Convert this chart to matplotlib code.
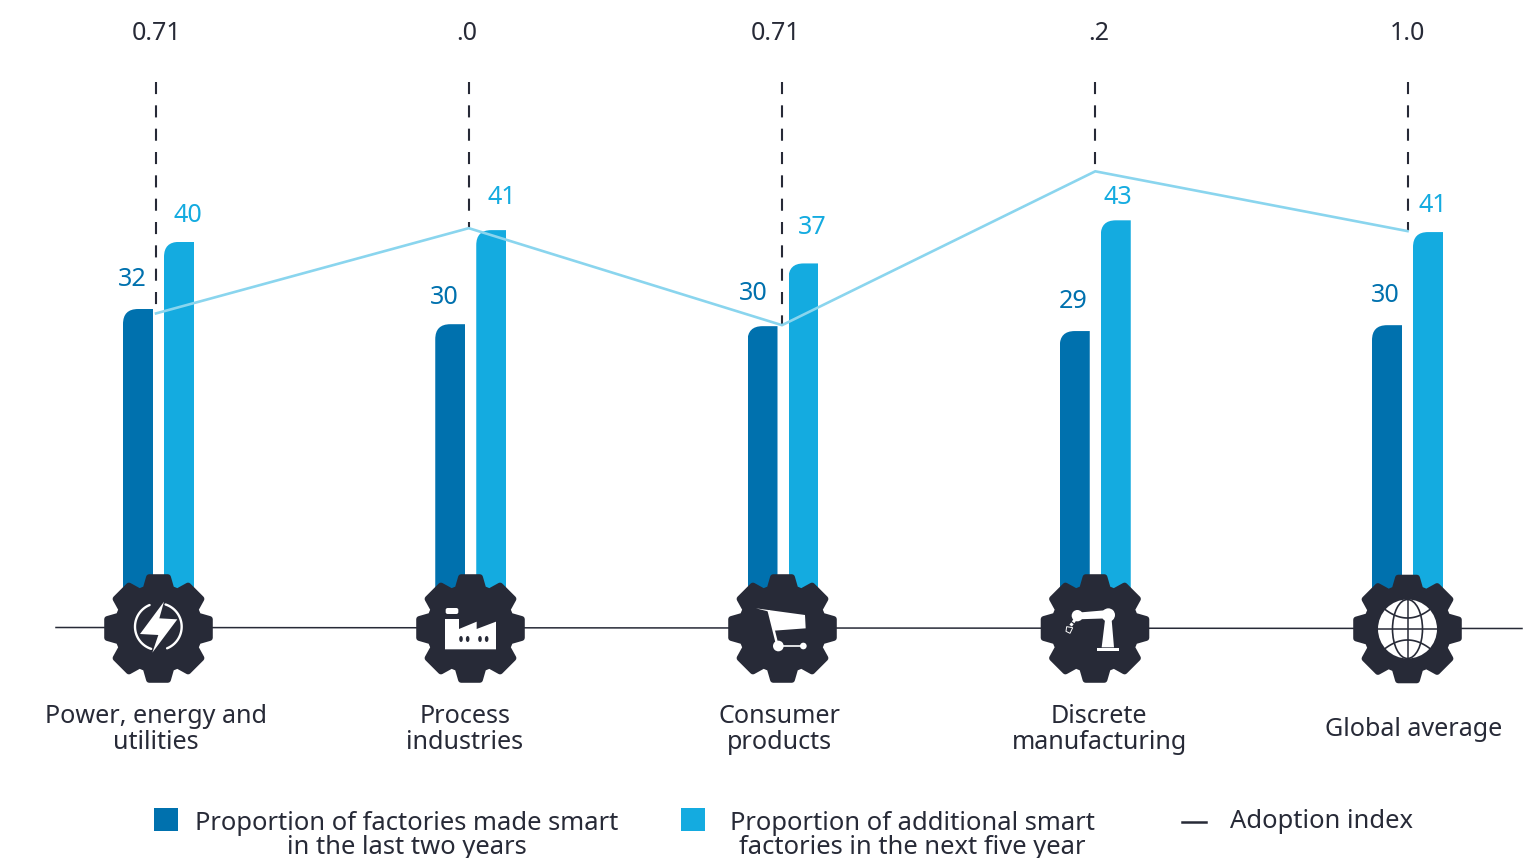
import numpy as np
import matplotlib
matplotlib.use("Agg")
import matplotlib.pyplot as plt
from matplotlib.path import Path
from matplotlib.patches import Polygon, Circle, Rectangle, FancyBboxPatch, Ellipse
from matplotlib.transforms import Affine2D, IdentityTransform

categories = ["Power, energy and\nutilities", "Process\nindustries", "Consumer\nproducts",
              "Discrete\nmanufacturing", "Global average"]
made_smart_labels = [32, 30, 30, 29, 30]
additional_labels = [40, 41, 37, 43, 41]
made_smart_heights = [32.55, 31.0, 30.8, 30.3, 30.9]
additional_heights = [39.4, 40.6, 37.2, 41.6, 40.4]
adoption_line = [32.1, 40.8, 30.9, 46.6, 40.5]
adoption_labels = ["0.71", ".0", "0.71", ".2", "1.0"]
legend_labels = ["Proportion of factories made smart\nin the last two years",
                 "Proportion of additional smart\nfactories in the next five year",
                 "Adoption index"]

DARK, LIGHT, LINE, INK = "#0071AE", "#14ABE0", "#8AD5EE", "#272A37"
plt.rcParams["font.family"] = ["Noto Sans", "DejaVu Sans"]
FS = 18.1
LFS = 18.4

W, H = 1537, 858
BASE = 628.0; PXU = 9.8; X0 = 158.5; STEP = 312.25
fig = plt.figure(figsize=(W/100, H/100), dpi=100, facecolor="white")
ax = fig.add_axes([0, 0, 1, 1])
ax.set_xlim(-X0/STEP, (W-X0)/STEP)
ax.set_ylim((BASE-H)/PXU, BASE/PXU)
ax.axis("off")
px = Affine2D().scale(1, -1).translate(0, H)   # reference pixels -> display

xs = np.arange(len(categories))
bar_w = 30/STEP
off = 20.5/STEP

def round_clip(bar, r=15):
    (x0, y0), (x1, y1) = ax.transData.transform(
        [(bar.get_x(), bar.get_y()), (bar.get_x()+bar.get_width(), bar.get_y()+bar.get_height())])
    verts = [(x0, y0), (x0, y1-r), (x0, y1), (x0+r, y1), (x1, y1), (x1, y0), (x0, y0)]
    codes = [Path.MOVETO, Path.LINETO, Path.CURVE3, Path.CURVE3, Path.LINETO, Path.LINETO, Path.CLOSEPOLY]
    bar.set_clip_path(Path(verts, codes), IdentityTransform())

for b in ax.bar(xs-off, made_smart_heights, bar_w, color=DARK, zorder=2):
    round_clip(b)
for b in ax.bar(xs+off, additional_heights, bar_w, color=LIGHT, zorder=2):
    round_clip(b)

# baseline
ax.plot([56, 1522], [627.5, 628.5], transform=px, color=INK, lw=1.1, zorder=1)

# adoption index line + dashed droppers (dash pattern starts at the top)
line_dx = np.array([-2.5, -2.0, -1.0, 0, 0])/STEP
for x, y in zip(xs+line_dx, adoption_line):
    ax.plot([x, x], [(BASE-82)/PXU, y], color=INK, lw=1.5, ls=(0, (5.8, 5.4)),
            dash_capstyle="butt", zorder=3)
ax.plot(xs+line_dx, adoption_line, color=LINE, lw=1.9, zorder=4, solid_joinstyle="miter")

# value labels
dark_pos = [(132, 280), (444, 298), (753, 293), (1073, 301), (1385, 296)]
light_pos = [(188, 216), (502, 197), (812, 228), (1118, 197), (1433, 205)]
top_x = [157, 467, 776, 1099, 1408]
for (x, y), v in zip(dark_pos, made_smart_labels):
    ax.text(x, y, str(v), transform=px, color=DARK, fontsize=FS, ha="center", va="center")
for (x, y), v in zip(light_pos, additional_labels):
    ax.text(x, y, str(v), transform=px, color=LIGHT, fontsize=FS, ha="center", va="center")
for x, s in zip(top_x, adoption_labels):
    ax.text(x, 34, s, transform=px, color=INK, fontsize=FS, ha="center", va="center")

# category labels
cat_pos = [(156, 729.5), (465, 729.5), (779, 729.5), (1099, 729.5), (1414, 730)]
for (x, y), s in zip(cat_pos, categories):
    ax.text(x, y, s, transform=px, color=INK, fontsize=FS, ha="center", va="center", linespacing=1.06)

# gears
def gear_path(cx, cy, teeth=8, r_out=52, r_in=41.5, half_out=0.18, half_in=0.31):
    pts = []
    for k in range(teeth):
        a = -np.pi/2 + k*2*np.pi/teeth
        pts += [(r_in, a-half_in), (r_out, a-half_out), (r_out, a+half_out), (r_in, a+half_in)]
    return [(cx+r*np.cos(t), cy+r*np.sin(t)) for r, t in pts]

gear_c = [(158.5, 628.5), (470.5, 628.5), (782.5, 628.5), (1095, 628.5), (1407.5, 629)]
for c in gear_c:
    ax.add_patch(Polygon(gear_path(*c), closed=True, fc=INK, ec=INK, lw=4.5, joinstyle="round",
                         transform=px, zorder=5))

def z(pts, ox, oy):
    return [(ox+x/3, oy+y/3) for x, y in pts]

def wp(pts, ox, oy, color="white"):
    ax.add_patch(Polygon(z(pts, ox, oy), closed=True, fc=color, ec="none", transform=px, zorder=6))

def wc(x, y, r, ox, oy, color="white"):
    ax.add_patch(Circle((ox+x/3, oy+y/3), r/3, fc=color, ec="none", transform=px, zorder=7))

# power icon
wp([(222, 125), (150, 222), (205, 225), (187, 278), (262, 178), (208, 175)], 90, 560)
for t1, t2 in [(-72, 68), (108, 248)]:
    t = np.radians(np.linspace(t1, t2, 60))
    ax.plot(90+(205+70*np.cos(t))/3, 560+(200+70*np.sin(t))/3, color="white", lw=1.7,
            transform=px, zorder=6, solid_capstyle="round")

# factory icon
ax.add_patch(FancyBboxPatch((90+1067/3, 560+144/3), 38/3, 18/3, boxstyle="round,pad=0,rounding_size=2",
                            fc="white", ec="none", transform=px, zorder=6))
wp([(1065, 177), (1107, 177), (1107, 207), (1160, 185), (1160, 207), (1218, 185), (1218, 268), (1065, 268)], 90, 560)
for x in (1113, 1133, 1170, 1190):
    ax.add_patch(Ellipse((90+x/3, 560+237/3), 3.6, 6, fc=INK, ec="none", transform=px, zorder=7))

# cart icon
wp([(108, 145), (255, 165), (257, 205), (162, 212), (147, 155)], 720, 560)
ax.plot(*zip(*z([(147, 155), (172, 255)], 720, 560)), color="white", lw=1.8, transform=px, zorder=6)
ax.plot(*zip(*z([(175, 258), (250, 258)], 720, 560)), color="white", lw=1.2, transform=px, zorder=6)
wc(175, 258, 16, 720, 560)
wc(250, 258, 10, 720, 560)

# robot icon
wp([(1072, 158), (1165, 150), (1165, 175), (1072, 178)], 720, 560)
wc(1072, 167, 17, 720, 560)
wc(1165, 165, 20, 720, 560)
wp([(1155, 180), (1175, 180), (1182, 262), (1145, 262)], 720, 560)
wp([(1132, 265), (1197, 265), (1197, 272), (1132, 272)], 720, 560)
ax.plot(*zip(*z([(1068, 175), (1052, 197)], 720, 560)), color="white", lw=2.2, transform=px, zorder=6, ls=(0, (1.6, 0.4)))
ax.add_patch(Polygon(z([(1040, 200), (1058, 203), (1050, 220), (1038, 214)], 720, 560), closed=True,
                     fc="none", ec="white", lw=0.7, transform=px, zorder=6))

# globe icon
gx, gy = 1407.5, 629
ax.add_patch(Circle((gx, gy), 29.5, fc="white", ec="none", transform=px, zorder=6))
ax.add_patch(Ellipse((gx, gy), 30, 59, fc="none", ec=INK, lw=1.2, transform=px, zorder=7))
ax.plot([gx-29.5, gx+29.5], [gy, gy], color=INK, lw=1.1, transform=px, zorder=7)
ax.plot([gx, gx], [gy-29.5, gy+29.5], color=INK, lw=1.1, transform=px, zorder=7)
t = np.linspace(-1, 1, 40)
for sgn in (-1, 1):
    ax.plot(gx+t*23, gy+sgn*(11+9*t**2), color=INK, lw=1.2, transform=px, zorder=7)

# legend
ax.add_patch(Rectangle((154, 808), 24, 23, fc=DARK, ec="none", transform=px))
ax.add_patch(Rectangle((681, 808), 24, 23, fc=LIGHT, ec="none", transform=px))
ax.plot([1182, 1206], [822, 822], color=INK, lw=1.8, transform=px)
ax.text(407, 835.5, legend_labels[0], transform=px, color=INK, fontsize=LFS, ha="center", va="center", linespacing=1.0)
ax.text(912, 835.5, legend_labels[1], transform=px, color=INK, fontsize=LFS, ha="center", va="center", linespacing=1.0)
ax.text(1230, 822, legend_labels[2], transform=px, color=INK, fontsize=LFS, ha="left", va="center")

fig.savefig("out.png", dpi=100, facecolor="white")
